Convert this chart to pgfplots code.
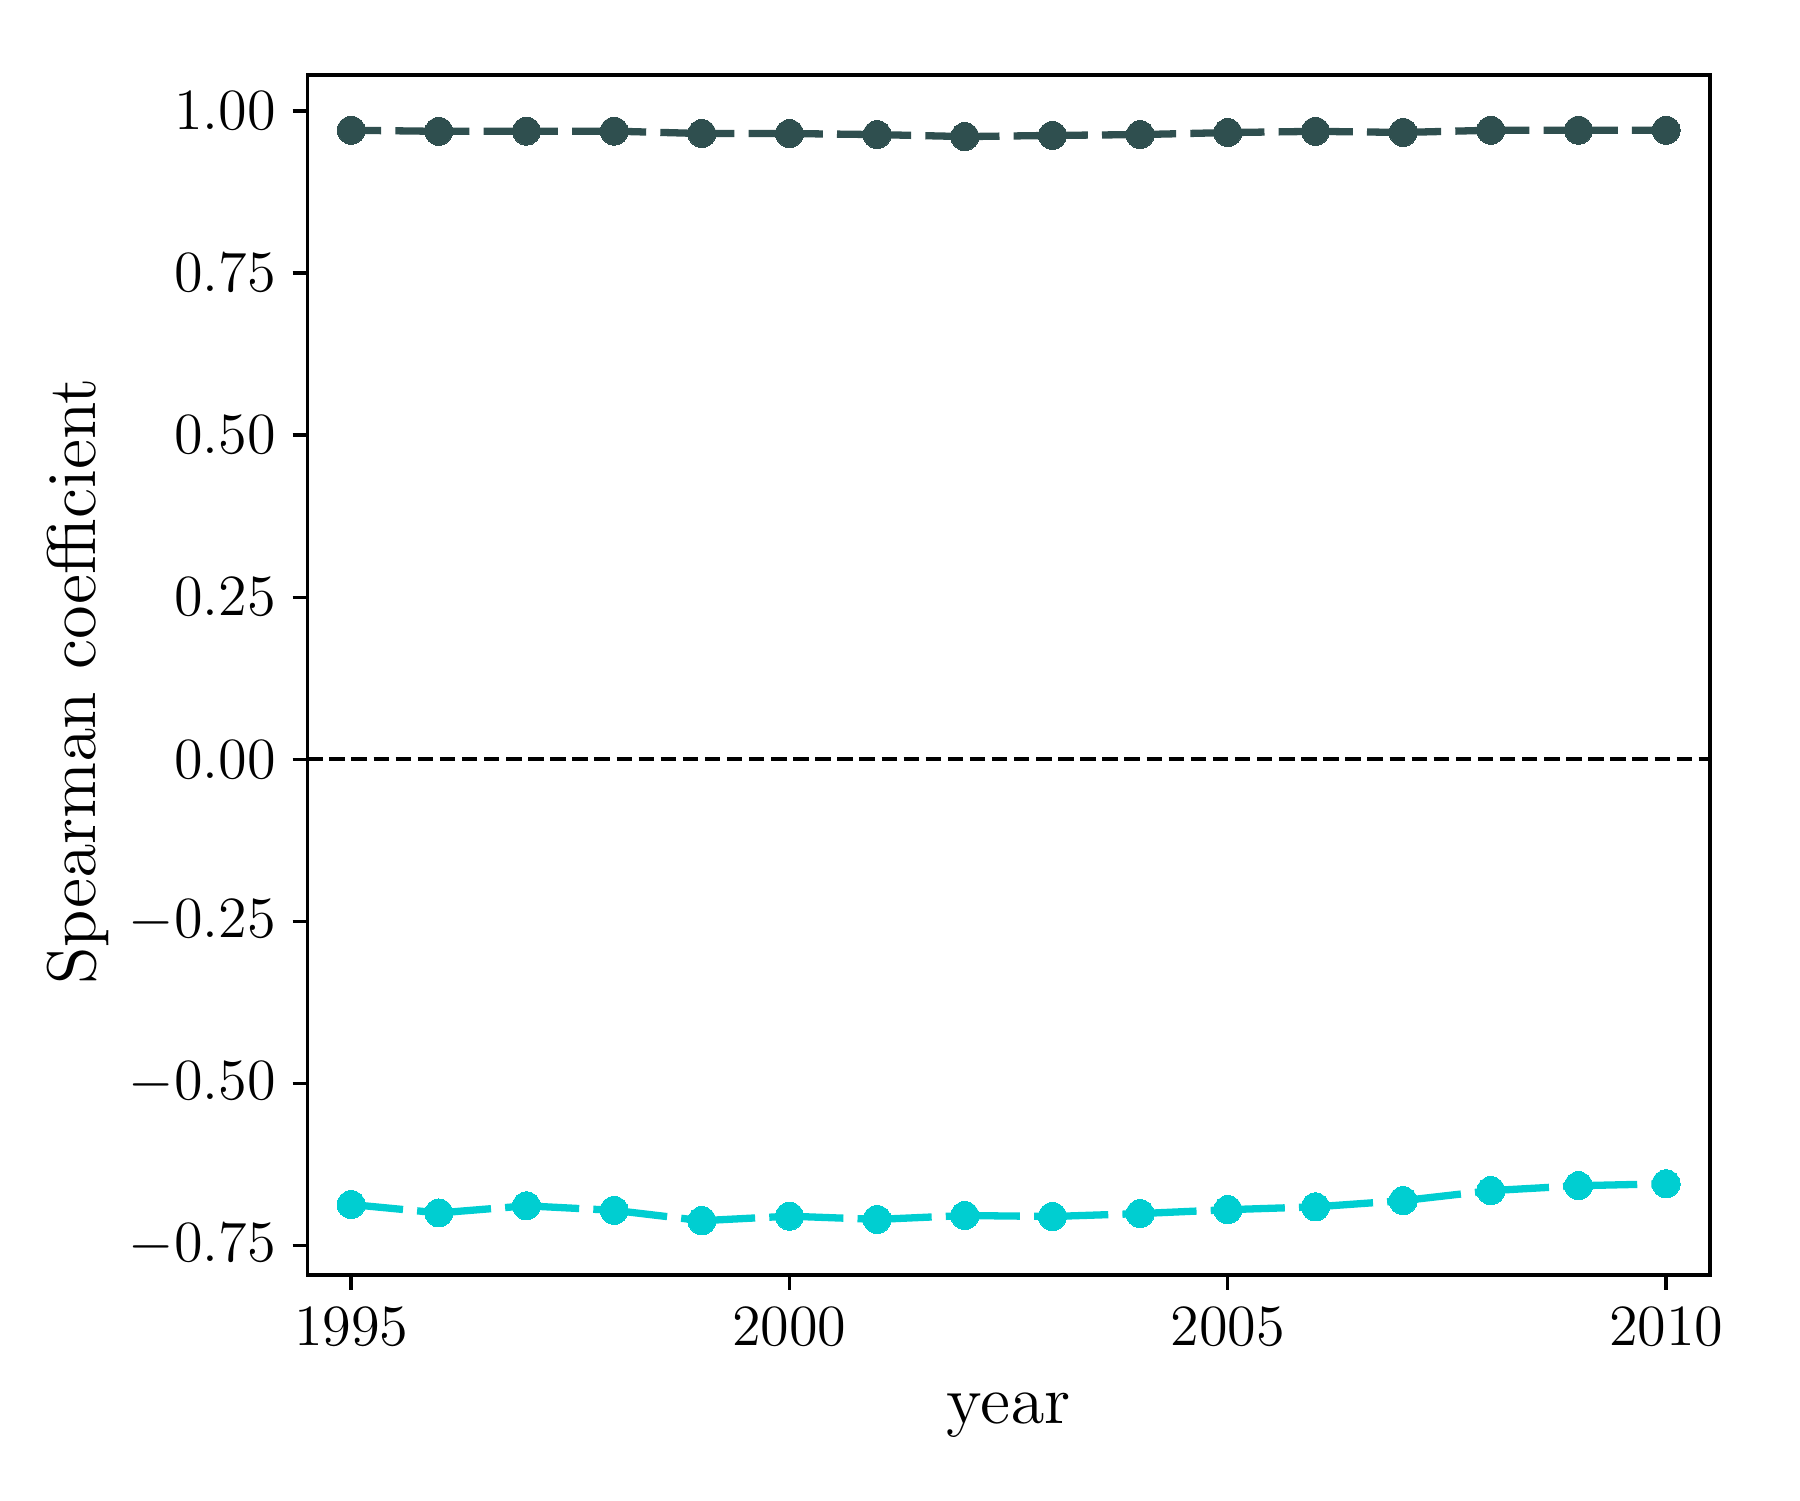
\RequirePackage{fix-cm}
\documentclass[border=0pt]{standalone}
\usepackage{pgfplots}
\usepackage{pgfplotstable}
\pgfplotsset{compat=1.18}
\definecolor{dslate}{RGB}{47,79,79}
\definecolor{dturq}{RGB}{0,206,209}
\newcommand{\labfont}{\fontencoding{OT1}\fontfamily{cmr}\fontsize{16.5}{20}\selectfont}
\pgfplotstableread{
year rho
1995 0.9704
1996 0.9687
1997 0.9690
1998 0.9690
1999 0.9653
2000 0.9653
2001 0.9637
2002 0.9606
2003 0.9624
2004 0.9637
2005 0.9668
2006 0.9687
2007 0.9670
2008 0.9704
2009 0.9704
2010 0.9704
}\darktable
\pgfplotstableread{
year rho
1995 -0.687
1996 -0.700
1997 -0.689
1998 -0.696
1999 -0.712
2000 -0.705
2001 -0.710
2002 -0.704
2003 -0.7055
2004 -0.701
2005 -0.695
2006 -0.6906
2007 -0.681
2008 -0.6656
2009 -0.658
2010 -0.655
}\cyantable
\pgfplotstableread{
x y
1994.5 0
2010.5 0
}\zerotable
\begin{document}
\begin{tikzpicture}
\begin{axis}[
  at={(0pt,0pt)}, anchor=south west,
  scale only axis, width=336.6pt, height=288pt,
  xmin=1994.5, xmax=2010.5, ymin=-0.796, ymax=1.0556,
  xtick={1995,2000,2005,2010},
  ytick={-0.75,-0.5,-0.25,0,0.25,0.5,0.75,1},
  minor tick num=0,
  axis line style={line width=0.8pt, black},
  every tick/.style={line width=0.8pt, black},
  tick align=outside, major tick length=3.5pt,
  xtick pos=left, ytick pos=left,
  scaled y ticks=false,
  ticklabel style={font=\fontsize{14}{17}\selectfont},
  xticklabel style={/pgf/number format/1000 sep={}, inner sep=0pt, anchor=north, yshift=-4.2pt},
  yticklabel style={/pgf/number format/.cd, fixed, fixed zerofill, precision=2, /tikz/.cd, inner sep=0pt, anchor=east, xshift=-3.9pt},
  xlabel={year}, ylabel={Spearman coefficient},
  label style={font=\labfont},
  xlabel style={at={(axis description cs:0.5,0)}, anchor=base, inner sep=0pt, yshift=-35.5pt},
  ylabel style={at={(axis description cs:-0.1512,0.495)}, anchor=base, inner sep=0pt},
]
\addplot[black, line width=1pt, dash pattern=on 3.7pt off 1.6pt] table[x=x, y=y] {\zerotable};
\addplot[dslate, line width=1.75pt, dash pattern=on 17.8pt off 3.4pt, dash phase=10.6pt,
  mark=*, mark size=3.36pt, mark options={solid, fill=dslate, line width=0pt}] table[x=year, y=rho] {\darktable};
\addplot[dturq, line width=1.75pt, dash pattern=on 17.8pt off 3.4pt, dash phase=5.3pt,
  mark=*, mark size=3.36pt, mark options={solid, fill=dturq, line width=0pt}] table[x=year, y=rho] {\cyantable};
\end{axis}
\pgfresetboundingbox
\path[use as bounding box] (-73.75pt,-54pt) rectangle (358.2pt,306pt);
\end{tikzpicture}
\end{document}
